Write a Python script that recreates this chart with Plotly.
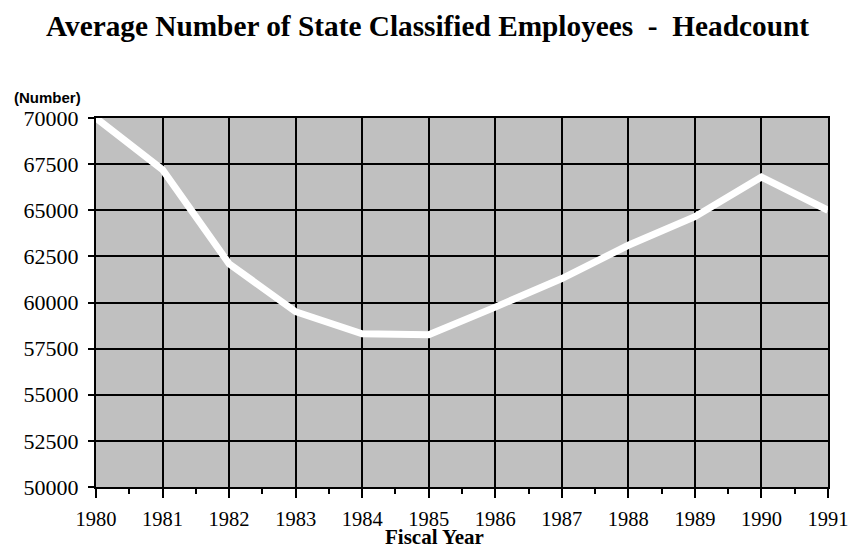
import plotly.graph_objects as go

years = [1980, 1981, 1982, 1983, 1984, 1985, 1986, 1987, 1988, 1989, 1990, 1991]
headcount = [70000, 67200, 62100, 59500, 58300, 58250, 59750, 61300, 63100, 64650, 66800, 65000]
y_ticks = [50000, 52500, 55000, 57500, 60000, 62500, 65000, 67500, 70000]

W, H = 850, 550
L, R, T, B = 96, 22, 118, 63
PW, PH = W - L - R, H - T - B

fig = go.Figure()
fig.add_trace(go.Scatter(
    x=years, y=headcount, mode="lines",
    line=dict(color="white", width=7),
    showlegend=False, hoverinfo="skip",
))

fig.update_layout(
    width=W, height=H,
    margin=dict(l=L, r=R, t=T, b=B, autoexpand=False),
    paper_bgcolor="white",
    plot_bgcolor="#C0C0C0",
    title=dict(
        text="<b>Average Number of State Classified Employees  -  Headcount</b>",
        x=427.5 / W, xanchor="center", y=1 - 26 / H, yanchor="middle", yref="container",
        font=dict(family="Liberation Serif", size=29.3, color="black"),
    ),
    font=dict(family="Liberation Serif", size=20, color="black"),
)

fig.update_xaxes(
    range=[1980, 1991],
    automargin=False,
    tickmode="array", tickvals=years, ticktext=[str(y) for y in years],
    showgrid=True, gridcolor="black", gridwidth=2,
    showline=True, linecolor="black", linewidth=2, mirror=True,
    ticks="outside", ticklen=9, tickwidth=2, tickcolor="black",
    minor=dict(ticks="outside", ticklen=5, tickwidth=2, tickcolor="black", dtick=0.5, tick0=1980, showgrid=False),
    ticklabelstandoff=3,
    ticklabeloverflow="allow",
    zeroline=False,
    tickfont=dict(family="Liberation Serif", size=20.5),
)
fig.update_yaxes(
    range=[50000, 70000],
    automargin=False,
    tickmode="array", tickvals=y_ticks, ticktext=[str(v) for v in y_ticks],
    showgrid=True, gridcolor="black", gridwidth=2,
    showline=True, linecolor="black", linewidth=2, mirror=True,
    ticks="outside", ticklen=6, tickwidth=2, tickcolor="black",
    ticklabelstandoff=5,
    zeroline=False,
    tickfont=dict(family="Liberation Serif", size=22),
)

fig.add_annotation(
    text="<b>(Number)</b>", xref="paper", yref="paper",
    x=(12 - L) / PW, xanchor="left", y=(H - B - 97) / PH, yanchor="middle",
    showarrow=False, font=dict(family="Liberation Sans", size=15, color="black"),
)

fig.add_annotation(
    text="<b>Fiscal Year</b>", xref="paper", yref="paper",
    x=(434.5 - L) / PW, xanchor="center", y=(H - B - 537) / PH, yanchor="middle",
    showarrow=False, font=dict(family="Liberation Serif", size=21, color="black"),
)

fig.write_html(
    "out.html",
    config={"displayModeBar": False},
    post_script="document.body.style.margin='0';document.body.style.overflow='hidden';",
)
